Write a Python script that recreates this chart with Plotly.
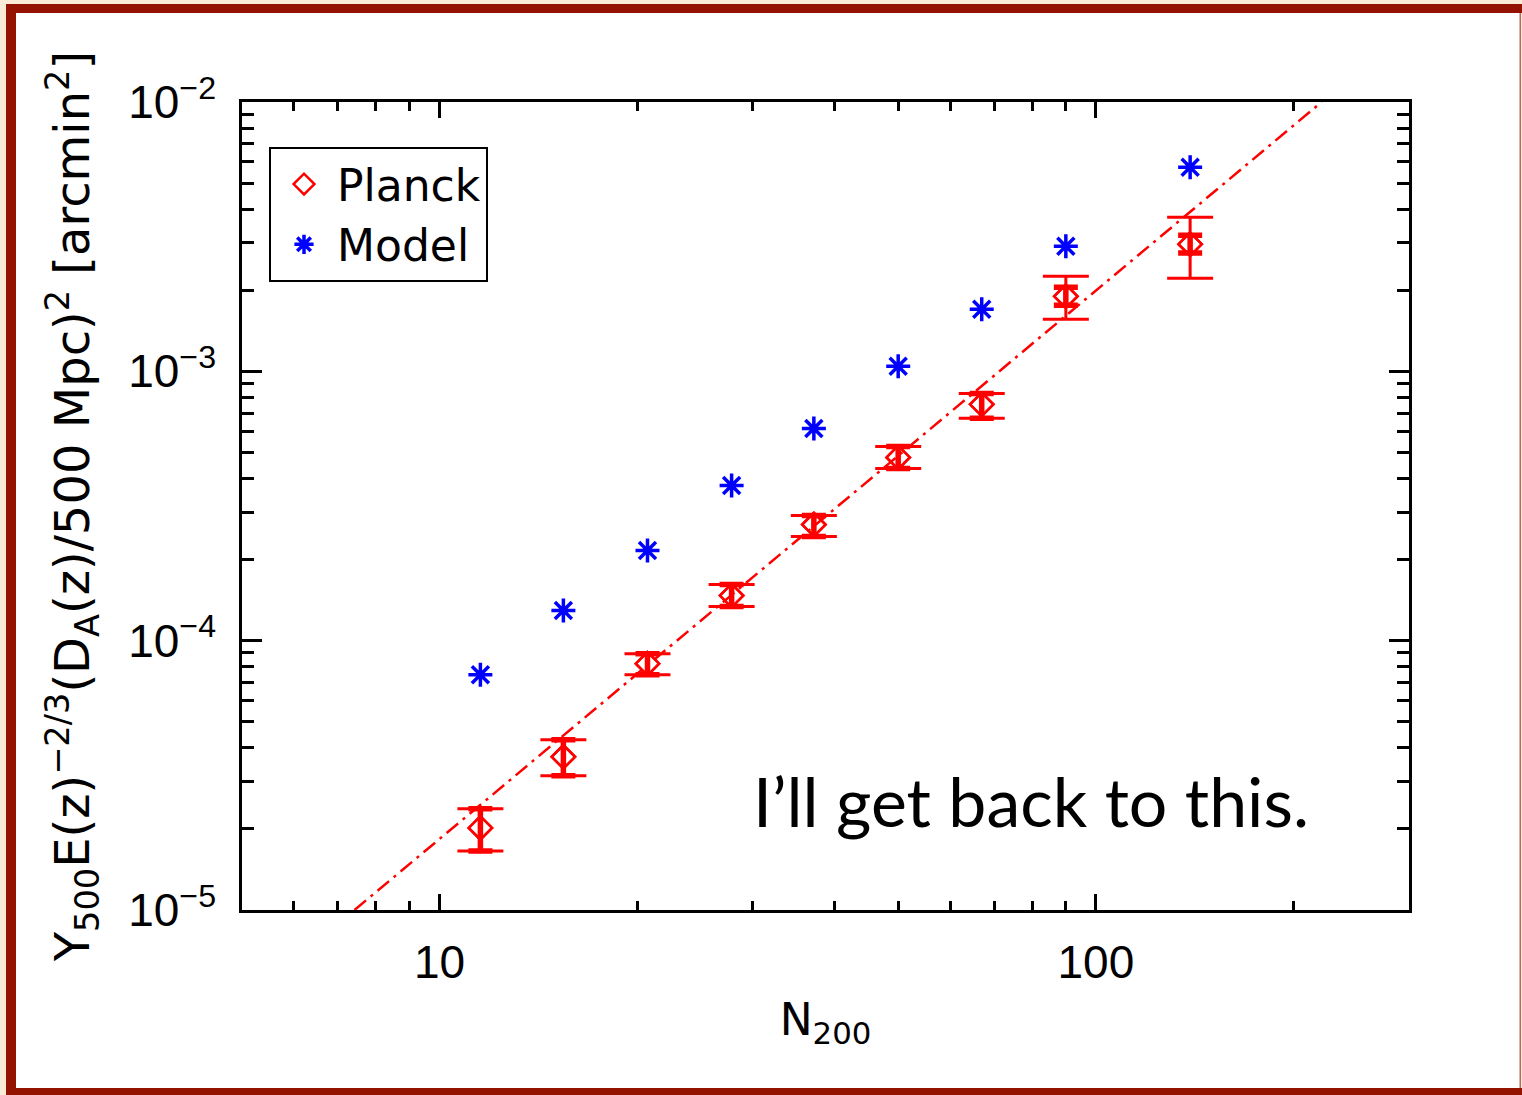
import plotly.graph_objects as go

# ---------------- data ----------------
n200 = [11.54, 15.44, 20.74, 27.86, 37.18, 49.98, 67.0, 90.0, 139.2]

planck_y = [2.017e-5, 3.705e-5, 8.21e-5, 1.470e-4, 2.698e-4, 4.79e-4, 7.54e-4, 1.90e-3, 2.965e-3]
planck_hi_total = [2.374e-5, 4.285e-5, 8.95e-5, 1.615e-4, 2.914e-4, 5.26e-4, 8.28e-4, 2.255e-3, 3.736e-3]
planck_lo_total = [1.657e-5, 3.148e-5, 7.47e-5, 1.338e-4, 2.435e-4, 4.36e-4, 6.69e-4, 1.561e-3, 2.217e-3]
planck_hi_stat = [2.374e-5, 4.285e-5, 8.95e-5, 1.615e-4, 2.914e-4, 5.26e-4, 8.28e-4, 2.05e-3, 3.20e-3]
planck_lo_stat = [1.657e-5, 3.148e-5, 7.47e-5, 1.338e-4, 2.435e-4, 4.36e-4, 6.69e-4, 1.76e-3, 2.75e-3]

model_y = [7.47e-5, 1.293e-4, 2.161e-4, 3.77e-4, 6.14e-4, 1.044e-3, 1.70e-3, 2.915e-3, 5.73e-3]

fit_x = [7.42, 220.8]
fit_y = [1e-5, 1e-2]

x_major = [10, 100]
x_major_text = ["10", "100"]
x_minor = [5, 6, 7, 8, 9, 20, 30, 40, 50, 60, 70, 80, 90, 200, 300]
y_major = [1e-5, 1e-4, 1e-3, 1e-2]
y_major_text = ["10<sup>−5</sup>", "10<sup>−4</sup>", "10<sup>−3</sup>", "10<sup>−2</sup>"]
y_minor = [m * 10.0 ** e for e in (-5, -4, -3) for m in range(2, 10)]

RED = "#ff0000"
BLUE = "#0000ff"

W, H = 1522, 1095
ML, MR, MT, MB = 242, 113, 102, 185
PW, PH = W - ML - MR, H - MT - MB


def px_x(p):
    return (p - ML) / PW


def px_y(p):
    return (H - MB - p) / PH


fig = go.Figure()

# fit line
fig.add_trace(go.Scatter(
    x=fit_x, y=fit_y, mode="lines",
    line=dict(color=RED, width=2.5, dash="15px,6px,3px,6px"),
    showlegend=False, hoverinfo="skip"))

# Planck total error bars (thin, wide caps)
fig.add_trace(go.Scatter(
    x=n200, y=planck_y, mode="markers",
    marker=dict(symbol="diamond-open", size=18, color=RED, line=dict(width=2.5, color=RED)),
    error_y=dict(type="data", symmetric=False,
                 array=[h - y for h, y in zip(planck_hi_total, planck_y)],
                 arrayminus=[y - l for l, y in zip(planck_lo_total, planck_y)],
                 color=RED, thickness=3, width=23),
    name="Planck", showlegend=True))

# Planck statistical error bars (thick, narrow caps)
fig.add_trace(go.Scatter(
    x=n200, y=planck_y, mode="markers",
    marker=dict(symbol="diamond-open", size=18, color=RED, line=dict(width=2.5, color=RED)),
    error_y=dict(type="data", symmetric=False,
                 array=[h - y for h, y in zip(planck_hi_stat, planck_y)],
                 arrayminus=[y - l for l, y in zip(planck_lo_stat, planck_y)],
                 color=RED, thickness=5.5, width=12),
    name="Planck", showlegend=False))

# Model
fig.add_trace(go.Scatter(
    x=n200, y=model_y, mode="markers",
    marker=dict(symbol="asterisk-open", size=20, color=BLUE, line=dict(width=3.5, color=BLUE)),
    name="Model"))

axis_common = dict(
    type="log", showline=True, linecolor="black", linewidth=2.5, mirror="allticks",
    ticks="inside", tickcolor="black", tickwidth=2.5, showgrid=False, zeroline=False,
    tickmode="array",
)

fig.update_xaxes(
    **axis_common,
    range=[0.69897, 2.47712],
    tickvals=x_major, ticktext=x_major_text, ticklen=16,
    tickfont=dict(family="Liberation Sans", size=46, color="black"),
    ticklabelstandoff=10,
    minor=dict(tickmode="array", tickvals=x_minor, ticklen=9, tickwidth=2.5,
               tickcolor="black", ticks="inside", showgrid=False),
    title=dict(text="N<sub>200</sub>", font=dict(family="DejaVu Sans", size=44, color="black"),
               standoff=18),
    automargin=False,
)

fig.update_yaxes(
    **axis_common,
    range=[-5, -2],
    tickvals=y_major, ticktext=y_major_text, ticklen=20,
    tickfont=dict(family="Liberation Sans", size=46, color="black"),
    ticklabelstandoff=14,
    minor=dict(tickmode="array", tickvals=y_minor, ticklen=12, tickwidth=2.5,
               tickcolor="black", ticks="inside", showgrid=False),
    title=dict(text="Y<sub>500</sub>E(z)<sup>−2/3</sup>(D<sub>A</sub>(z)/500 Mpc)<sup>2</sup> [arcmin<sup>2</sup>]",
               font=dict(family="DejaVu Sans", size=48, color="black"), standoff=24),
    automargin=False,
)

shapes = [
    # cream surround
    dict(type="rect", xref="paper", yref="paper", x0=px_x(0), x1=px_x(W), y0=px_y(0), y1=px_y(4),
         fillcolor="#f8ecd6", line=dict(width=0), layer="below"),
    dict(type="rect", xref="paper", yref="paper", x0=px_x(0), x1=px_x(6), y0=px_y(0), y1=px_y(H),
         fillcolor="#f8ecd6", line=dict(width=0), layer="below"),
    # dark red frame
    dict(type="rect", xref="paper", yref="paper", x0=px_x(6), x1=px_x(16), y0=px_y(4), y1=px_y(H),
         fillcolor="#941300", line=dict(width=0), layer="below"),
    dict(type="rect", xref="paper", yref="paper", x0=px_x(6), x1=px_x(1522), y0=px_y(4), y1=px_y(13),
         fillcolor="#941300", line=dict(width=0), layer="below"),
    dict(type="rect", xref="paper", yref="paper", x0=px_x(6), x1=px_x(1522), y0=px_y(1088), y1=px_y(H),
         fillcolor="#941300", line=dict(width=0), layer="below"),
    dict(type="rect", xref="paper", yref="paper", x0=px_x(1519.5), x1=px_x(1521), y0=px_y(13), y1=px_y(1088),
         fillcolor="#b86a5e", line=dict(width=0), layer="below"),
    dict(type="rect", xref="paper", yref="paper", x0=px_x(1521), x1=px_x(W), y0=px_y(13), y1=px_y(1088),
         fillcolor="#f8ecd6", line=dict(width=0), layer="below"),
]

fig.update_layout(
    width=W, height=H,
    margin=dict(l=ML, r=MR, t=MT, b=MB, pad=0),
    paper_bgcolor="white", plot_bgcolor="white",
    shapes=shapes,
    legend=dict(x=px_x(269), y=px_y(147), xanchor="left", yanchor="top",
                bgcolor="white", bordercolor="black", borderwidth=2,
                font=dict(family="DejaVu Sans", size=44, color="black"),
                itemwidth=56, tracegroupgap=0),
    annotations=[dict(text="I’ll get back to this.", xref="paper", yref="paper",
                      x=px_x(1031), y=px_y(800), xanchor="center", yanchor="middle",
                      showarrow=False, font=dict(family="Lato", size=68, color="black"))],
)

fig.write_html("out.html")
